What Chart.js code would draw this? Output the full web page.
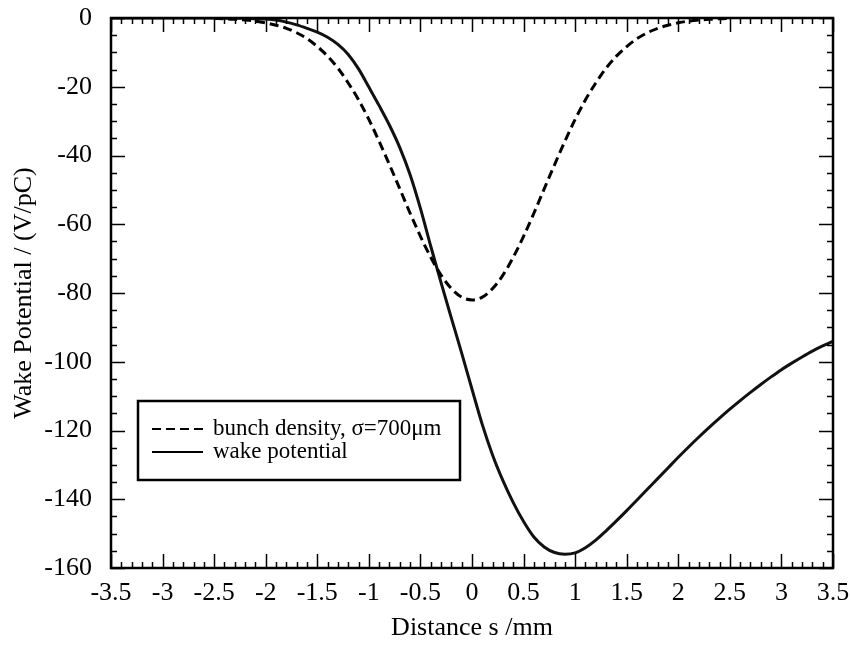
<!DOCTYPE html>
<html>
<head>
<meta charset="utf-8">
<script src="https://cdn.jsdelivr.net/npm/chart.js@4/dist/chart.umd.min.js"></script>
<style>
  html, body { margin: 0; padding: 0; background: #fff; }
  #wrap { width: 851px; height: 646px; }
</style>
</head>
<body>
<div id="wrap"><canvas id="wakeChart" width="851" height="646"></canvas></div>
<script>
// Wake potential (solid), s in mm
const wakeS = [-3.5, -3.0, -2.6, -2.4, -2.2, -2.0, -1.9, -1.8, -1.7, -1.6, -1.5, -1.4, -1.3, -1.2, -1.1, -1.0,
  -0.9, -0.8, -0.7, -0.6, -0.5, -0.4, -0.3, -0.2, -0.1, 0.0, 0.1, 0.2, 0.3, 0.4, 0.5, 0.6, 0.7, 0.8,
  0.9, 1.0, 1.1, 1.2, 1.3, 1.4, 1.5, 1.6, 1.7, 1.8, 1.9, 2.0, 2.1, 2.2, 2.3, 2.4, 2.5, 2.6, 2.7, 2.8,
  2.9, 3.0, 3.1, 3.2, 3.3, 3.4, 3.5];
const wakeV = [0, 0, 0, -0.05, -0.1, -0.3, -0.6, -1.2, -2.0, -3.0, -4.1, -5.6, -7.7, -10.6, -14.8, -20.1,
  -25.5, -31.2, -37.7, -45.6, -55.4, -66.4, -77.0, -87.3, -97.5, -108.0, -118.3, -127.2, -134.6, -141.0, -146.5, -151.0, -153.9, -155.5,
  -156.0, -155.6, -154.1, -151.9, -149.2, -146.3, -143.3, -140.2, -137.1, -134.0, -130.9, -127.8, -124.8, -121.9, -119.1, -116.4, -113.8, -111.3, -108.9, -106.6,
  -104.4, -102.3, -100.4, -98.6, -96.9, -95.4, -94.1];

// Bunch density (dashed), same units on the plot
const bunchS = [-2.5, -2.4, -2.3, -2.2, -2.1, -2.0, -1.9, -1.8, -1.7, -1.6, -1.5, -1.4, -1.3, -1.2, -1.1, -1.0,
  -0.9, -0.8, -0.7, -0.6, -0.5, -0.4, -0.3, -0.2, -0.1, 0.0, 0.1, 0.2, 0.3, 0.4, 0.5, 0.6, 0.7, 0.8,
  0.9, 1.0, 1.1, 1.2, 1.3, 1.4, 1.5, 1.6, 1.7, 1.8, 1.9, 2.0, 2.1, 2.2, 2.3, 2.4, 2.5];
const bunchV = [-0.1, -0.2, -0.4, -0.6, -0.9, -1.4, -2.1, -3.0, -4.3, -6.0, -8.3, -11.1, -14.6, -18.9, -23.8, -29.5,
  -35.9, -42.7, -49.7, -56.8, -63.5, -69.6, -74.8, -78.7, -81.2, -82.0, -81.2, -78.7, -74.8, -69.6, -63.5, -56.8, -49.7, -42.7,
  -35.9, -29.5, -23.8, -18.9, -14.6, -11.1, -8.3, -6.0, -4.3, -3.0, -2.1, -1.4, -0.9, -0.6, -0.4, -0.2, -0.1];

const xTicks = [-3.5, -3, -2.5, -2, -1.5, -1, -0.5, 0, 0.5, 1, 1.5, 2, 2.5, 3, 3.5];
const yTicks = [0, -20, -40, -60, -80, -100, -120, -140, -160];

const SERIF = "'Liberation Serif', 'DejaVu Serif', serif";

function pairs(xs, ys) {
  return xs.map((x, i) => ({ x: x, y: ys[i] }));
}

// frame, inward ticks and the boxed legend
const framePlugin = {
  id: "frame",
  afterDatasetsDraw(chart) {
    const ctx = chart.ctx;
    const { left, right, top, bottom } = chart.chartArea;
    const xs = chart.scales.x, ys = chart.scales.y;
    ctx.save();
    ctx.strokeStyle = "#000";
    ctx.lineWidth = 1.5;
    ctx.beginPath();
    for (let i = 0; i <= 70; i++) {
      const v = -3.5 + i * 0.1;
      const px = Math.round(xs.getPixelForValue(v)) + 0.5;
      const len = (i % 5 === 0) ? 14 : 6;
      ctx.moveTo(px, bottom); ctx.lineTo(px, bottom - len);
      ctx.moveTo(px, top); ctx.lineTo(px, top + len);
    }
    for (let i = 0; i <= 32; i++) {
      const v = -i * 5;
      const py = Math.round(ys.getPixelForValue(v)) + 0.5;
      const len = (i % 4 === 0) ? 14 : 6;
      ctx.moveTo(left, py); ctx.lineTo(left + len, py);
      ctx.moveTo(right, py); ctx.lineTo(right - len, py);
    }
    ctx.stroke();
    ctx.lineWidth = 2.5;
    ctx.strokeRect(left, top, right - left, bottom - top);

    // legend box
    const bx = 138, by = 401, bw = 322, bh = 79;
    ctx.lineWidth = 2.5;
    ctx.fillStyle = "#fff";
    ctx.fillRect(bx, by, bw, bh);
    ctx.strokeRect(bx, by, bw, bh);
    ctx.font = "23px " + SERIF;
    ctx.textBaseline = "middle";
    ctx.fillStyle = "#000";
    chart.data.datasets.forEach((ds, i) => {
      const ly = 429 + i * 23;
      ctx.beginPath();
      ctx.lineWidth = 2.2;
      ctx.setLineDash(ds.borderDash || []);
      ctx.moveTo(152, ly); ctx.lineTo(203, ly);
      ctx.stroke();
      ctx.setLineDash([]);
      ctx.fillText(ds.label, 213, ly);
    });
    ctx.restore();
  }
};

new Chart(document.getElementById("wakeChart"), {
  type: "line",
  data: {
    datasets: [
      {
        label: "bunch density, σ=700μm",
        data: pairs(bunchS, bunchV),
        borderColor: "#000",
        borderWidth: 3,
        borderDash: [9, 5],
        pointRadius: 0,
        cubicInterpolationMode: "monotone",
        fill: false
      },
      {
        label: "wake potential",
        data: pairs(wakeS, wakeV),
        borderColor: "#111",
        borderWidth: 3,
        pointRadius: 0,
        cubicInterpolationMode: "monotone",
        fill: false
      }
    ]
  },
  options: {
    responsive: false,
    animation: false,
    layout: { padding: { top: 18, right: 18, left: 0, bottom: 0 } },
    plugins: {
      legend: { display: false },
      tooltip: { enabled: false }
    },
    scales: {
      x: {
        type: "linear",
        min: -3.5,
        max: 3.5,
        afterBuildTicks: (scale) => { scale.ticks = xTicks.map(v => ({ value: v })); },
        afterFit: (scale) => {
          scale.height = 78;
          scale.paddingLeft = 0;
          scale.paddingRight = 0;
        },
        grid: { display: false, drawTicks: false },
        border: { display: false },
        ticks: {
          autoSkip: false,
          maxRotation: 0,
          padding: 10,
          color: "#000",
          font: { family: SERIF, size: 26 },
          callback: (v) => String(Math.round(v * 10) / 10)
        },
        title: {
          display: true,
          text: "Distance s /mm",
          color: "#000",
          font: { family: SERIF, size: 26 },
          padding: { top: 0, bottom: 2 }
        }
      },
      y: {
        type: "linear",
        min: -160,
        max: 0,
        afterBuildTicks: (scale) => { scale.ticks = yTicks.map(v => ({ value: v })); },
        afterFit: (scale) => {
          scale.width = 111;
          scale.paddingTop = 0;
          scale.paddingBottom = 0;
        },
        grid: { display: false, drawTicks: false },
        border: { display: false },
        ticks: {
          padding: 19,
          color: "#000",
          font: { family: SERIF, size: 26 },
          callback: (v) => String(v)
        },
        title: {
          display: true,
          text: "Wake Potential / (V/pC)",
          color: "#000",
          font: { family: SERIF, size: 26 },
          padding: { top: 9, bottom: 0 }
        }
      }
    }
  },
  plugins: [framePlugin]
});
</script>
</body>
</html>
